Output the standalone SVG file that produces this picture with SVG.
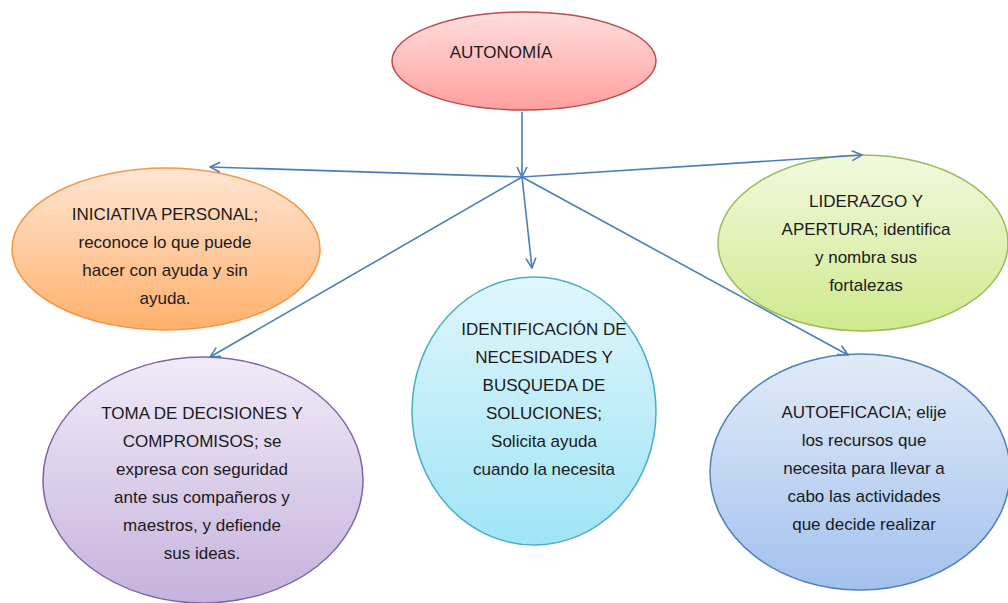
<svg xmlns="http://www.w3.org/2000/svg" width="1008" height="603" viewBox="0 0 1008 603">
  <defs>
    <linearGradient id="gRed" x1="0" y1="0" x2="0" y2="1">
      <stop offset="0" stop-color="#FFDEDE"/>
      <stop offset="1" stop-color="#FF9F9E"/>
    </linearGradient>
    <linearGradient id="gOrange" x1="0" y1="0" x2="0" y2="1">
      <stop offset="0" stop-color="#FFE6D4"/>
      <stop offset="1" stop-color="#FFB06B"/>
    </linearGradient>
    <linearGradient id="gGreen" x1="0" y1="0" x2="0" y2="1">
      <stop offset="0" stop-color="#F2F9DF"/>
      <stop offset="1" stop-color="#CFE98C"/>
    </linearGradient>
    <linearGradient id="gCyan" x1="0" y1="0" x2="0" y2="1">
      <stop offset="0" stop-color="#E0F6FC"/>
      <stop offset="1" stop-color="#A0E4F6"/>
    </linearGradient>
    <linearGradient id="gPurple" x1="0" y1="0" x2="0" y2="1">
      <stop offset="0" stop-color="#F0EBF7"/>
      <stop offset="1" stop-color="#C6B2DE"/>
    </linearGradient>
    <linearGradient id="gBlue" x1="0" y1="0" x2="0" y2="1">
      <stop offset="0" stop-color="#E1EBF8"/>
      <stop offset="1" stop-color="#A3C1EE"/>
    </linearGradient>
    <marker id="arr" viewBox="0 0 12 12" refX="11" refY="6" markerWidth="12" markerHeight="12" markerUnits="userSpaceOnUse" orient="auto">
      <path d="M1,1 L11,6 L1,11" fill="none" stroke="#4A7EBB" stroke-width="1.6"/>
    </marker>
  </defs>
  <style>
    .lbl { font-family: "Liberation Sans", Arial, sans-serif; font-size: 17px; fill: #1a1a1a; text-anchor: middle; }
    .conn { stroke: #4A7EBB; stroke-width: 1.6; fill: none; marker-end: url(#arr); }
  </style>
  <rect width="1008" height="603" fill="#ffffff"/>

  <g id="n-autonomia">
    <ellipse cx="524" cy="61" rx="132" ry="49" fill="url(#gRed)" stroke="#BE4B48" stroke-width="1.5"/>
    <text class="lbl" x="501" y="58">AUTONOMÍA</text>
  </g>

  <g id="n-iniciativa">
    <ellipse cx="166" cy="249" rx="154" ry="81" fill="url(#gOrange)" stroke="#F79646" stroke-width="1.5"/>
    <text class="lbl" x="165" y="220">INICIATIVA PERSONAL;</text>
    <text class="lbl" x="165" y="248">reconoce lo que puede</text>
    <text class="lbl" x="165" y="276">hacer con ayuda y sin</text>
    <text class="lbl" x="165" y="304">ayuda.</text>
  </g>

  <g id="n-liderazgo">
    <ellipse cx="863" cy="243" rx="145" ry="88" fill="url(#gGreen)" stroke="#9BBB59" stroke-width="1.5"/>
    <text class="lbl" x="866" y="207">LIDERAZGO Y</text>
    <text class="lbl" x="866" y="235">APERTURA; identifica</text>
    <text class="lbl" x="866" y="263">y nombra sus</text>
    <text class="lbl" x="866" y="291">fortalezas</text>
  </g>

  <g id="n-identificacion">
    <ellipse cx="534" cy="411" rx="122" ry="134" fill="url(#gCyan)" stroke="#4BACC6" stroke-width="1.5"/>
    <text class="lbl" x="544" y="335">IDENTIFICACIÓN DE</text>
    <text class="lbl" x="544" y="363">NECESIDADES Y</text>
    <text class="lbl" x="544" y="391">BUSQUEDA DE</text>
    <text class="lbl" x="544" y="419">SOLUCIONES;</text>
    <text class="lbl" x="544" y="447">Solicita ayuda</text>
    <text class="lbl" x="544" y="475">cuando la necesita</text>
  </g>

  <g id="n-toma">
    <ellipse cx="203" cy="480" rx="160" ry="123" fill="url(#gPurple)" stroke="#8064A2" stroke-width="1.5"/>
    <text class="lbl" x="202" y="419">TOMA DE DECISIONES Y</text>
    <text class="lbl" x="202" y="447">COMPROMISOS; se</text>
    <text class="lbl" x="202" y="475">expresa con seguridad</text>
    <text class="lbl" x="202" y="503">ante sus compañeros y</text>
    <text class="lbl" x="202" y="531">maestros, y defiende</text>
    <text class="lbl" x="202" y="559">sus ideas.</text>
  </g>

  <g id="n-autoeficacia">
    <ellipse cx="860" cy="472" rx="150" ry="118" fill="url(#gBlue)" stroke="#4F81BD" stroke-width="1.5"/>
    <text class="lbl" x="864" y="418">AUTOEFICACIA; elije</text>
    <text class="lbl" x="864" y="446">los recursos que</text>
    <text class="lbl" x="864" y="474">necesita para llevar a</text>
    <text class="lbl" x="864" y="502">cabo las actividades</text>
    <text class="lbl" x="864" y="530">que decide realizar</text>
  </g>

  <g id="connectors">
    <line class="conn" x1="522" y1="112" x2="522" y2="177"/>
    <line class="conn" x1="522" y1="177" x2="210" y2="167"/>
    <line class="conn" x1="522" y1="177" x2="862" y2="155"/>
    <line class="conn" x1="522" y1="177" x2="210" y2="357"/>
    <line class="conn" x1="522" y1="177" x2="532" y2="268"/>
    <line class="conn" x1="522" y1="177" x2="848" y2="355"/>
  </g>
</svg>
